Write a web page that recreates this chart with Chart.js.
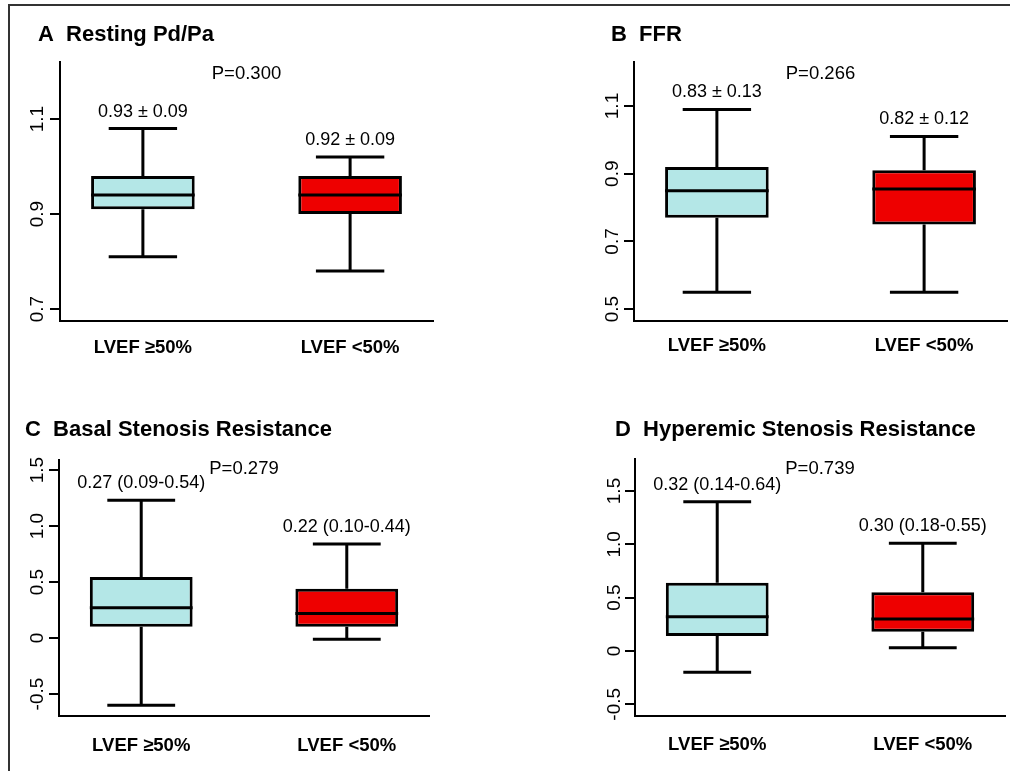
<!DOCTYPE html>
<html>
<head>
<meta charset="utf-8">
<script src="https://cdn.jsdelivr.net/npm/chart.js@4.4.1/dist/chart.umd.min.js"></script>
<style>
html,body{margin:0;padding:0;background:#fff;}
#wrap{position:relative;width:1010px;height:771px;overflow:hidden;background:#fff;}
#frame{position:absolute;left:8px;top:4px;width:1010px;height:790px;border-top:2px solid #333;border-left:2px solid #333;}
canvas{position:absolute;}
</style>
</head>
<body>
<div id="wrap">
  <div id="frame"></div>
  <canvas id="cA" width="505" height="385" style="left:0;top:0"></canvas>
  <canvas id="cB" width="505" height="385" style="left:505px;top:0"></canvas>
  <canvas id="cC" width="505" height="386" style="left:0;top:385px"></canvas>
  <canvas id="cD" width="505" height="386" style="left:505px;top:385px"></canvas>
</div>
<script>
// ---- data ----
const categories = ['LVEF \u226550%', 'LVEF <50%'];
const groupPos = [1, 2];
const groupColors = ['#b4e7e7', '#ee0000'];

// A: Resting Pd/Pa
const restTitle = 'A  Resting Pd/Pa';
const restLow  = [0.81, 0.78];
const restQ1   = [0.91, 0.90];
const restMed  = [0.94, 0.94];
const restQ3   = [0.98, 0.98];
const restHigh = [1.08, 1.02];
const restTicks = [0.7, 0.9, 1.1];
const restTickLabels = ['0.7', '0.9', '1.1'];
const restLabels = ['0.93 \u00b1 0.09', '0.92 \u00b1 0.09'];
const restP = 'P=0.300';

// B: FFR
const ffrTitle = 'B  FFR';
const ffrLow  = [0.55, 0.55];
const ffrQ1   = [0.77, 0.75];
const ffrMed  = [0.85, 0.855];
const ffrQ3   = [0.92, 0.91];
const ffrHigh = [1.09, 1.01];
const ffrTicks = [0.5, 0.7, 0.9, 1.1];
const ffrTickLabels = ['0.5', '0.7', '0.9', '1.1'];
const ffrLabels = ['0.83 \u00b1 0.13', '0.82 \u00b1 0.12'];
const ffrP = 'P=0.266';

// C: Basal Stenosis Resistance
const bsrTitle = 'C  Basal Stenosis Resistance';
const bsrLow  = [-0.60, -0.01];
const bsrQ1   = [0.10, 0.10];
const bsrMed  = [0.27, 0.22];
const bsrQ3   = [0.545, 0.44];
const bsrHigh = [1.23, 0.84];
const bsrTicks = [-0.5, 0, 0.5, 1.0, 1.5];
const bsrTickLabels = ['-0.5', '0', '0.5', '1.0', '1.5'];
const bsrLabels = ['0.27 (0.09-0.54)', '0.22 (0.10-0.44)'];
const bsrP = 'P=0.279';

// D: Hyperemic Stenosis Resistance
const hsrTitle = 'D  Hyperemic Stenosis Resistance';
const hsrLow  = [-0.20, 0.03];
const hsrQ1   = [0.14, 0.18];
const hsrMed  = [0.32, 0.30];
const hsrQ3   = [0.64, 0.55];
const hsrHigh = [1.40, 1.01];
const hsrTicks = [-0.5, 0, 0.5, 1.0, 1.5];
const hsrTickLabels = ['-0.5', '0', '0.5', '1.0', '1.5'];
const hsrLabels = ['0.32 (0.14-0.64)', '0.30 (0.18-0.55)'];
const hsrP = 'P=0.739';

// ---- drawing ----
const FONT = "'Liberation Sans', Arial, Helvetica, sans-serif";

const boxExtras = {
  id: 'boxExtras',
  afterDatasetsDraw(chart, args, o) {
    const {ctx, chartArea} = chart;
    const xS = chart.scales.x, yS = chart.scales.y;
    const meta = chart.getDatasetMeta(0);
    ctx.save();
    ctx.strokeStyle = '#000';
    ctx.lineWidth = 3;
    ctx.lineCap = 'butt';
    groupPos.forEach((p, i) => {
      const bar = meta.data[i];
      const x = xS.getPixelForValue(p);
      const hw = bar.width / 2;
      const cw = hw * 0.66;
      const yLo = yS.getPixelForValue(o.low[i]);
      const yHi = yS.getPixelForValue(o.high[i]);
      const yQ1 = yS.getPixelForValue(o.q1[i]);
      const yQ3 = yS.getPixelForValue(o.q3[i]);
      const yMd = yS.getPixelForValue(o.med[i]);
      ctx.beginPath();
      ctx.moveTo(x, yQ3); ctx.lineTo(x, yHi);
      ctx.moveTo(x - cw, yHi); ctx.lineTo(x + cw, yHi);
      ctx.moveTo(x, yQ1); ctx.lineTo(x, yLo);
      ctx.moveTo(x - cw, yLo); ctx.lineTo(x + cw, yLo);
      ctx.stroke();
      ctx.beginPath();
      ctx.moveTo(x - hw, yMd); ctx.lineTo(x + hw, yMd);
      ctx.stroke();
      ctx.fillStyle = '#000';
      ctx.font = '18px ' + FONT;
      ctx.textAlign = 'center';
      ctx.textBaseline = 'middle';
      ctx.fillText(o.labels[i], x, yHi - 17);
    });
    ctx.font = '18.5px ' + FONT;
    ctx.textAlign = 'center';
    ctx.textBaseline = 'middle';
    const mid = (groupPos[0] + groupPos[1]) / 2;
    ctx.fillText(o.pText, xS.getPixelForValue(mid), chartArea.top + o.pOffset);
    // panel title
    ctx.font = 'bold 22px ' + FONT;
    ctx.textAlign = 'left';
    ctx.fillText(o.title, chartArea.left + o.titleDx, o.titleY);
    ctx.restore();
  }
};

function makePanel(id, d, L) {
  new Chart(document.getElementById(id), {
    type: 'bar',
    data: {
      datasets: [{
        data: groupPos.map((p, i) => ({x: p, y: [d.q1[i], d.q3[i]]})),
        backgroundColor: groupColors,
        borderColor: '#000',
        borderWidth: 3,
        borderSkipped: false,
        categoryPercentage: 1,
        barPercentage: 0.5
      }]
    },
    options: {
      responsive: false,
      animation: false,
      devicePixelRatio: 1,
      layout: {padding: {left: 0, right: L.padR, top: L.padT, bottom: 0}},
      plugins: {
        legend: {display: false},
        tooltip: {enabled: false},
        title: {display: false},
        boxExtras: {low: d.low, q1: d.q1, med: d.med, q3: d.q3, high: d.high,
                    labels: d.labels, pText: d.pText, pOffset: L.pOff,
                    title: d.title, titleDx: L.titleDx, titleY: L.titleY}
      },
      scales: {
        x: {
          type: 'linear', min: 0.6, max: 2.4, offset: false,
          afterBuildTicks: s => { s.ticks = groupPos.map(v => ({value: v})); },
          afterFit: s => { s.height = L.xH; },
          grid: {display: false, drawTicks: false, offset: false},
          border: {display: true, color: '#000', width: 2},
          ticks: {
            callback: (v, i) => categories[i],
            color: '#000', padding: L.catPad, maxRotation: 0, minRotation: 0,
            font: {family: FONT, size: 18.5, weight: 'bold'}
          }
        },
        y: {
          min: d.yMin, max: d.yMax,
          afterBuildTicks: s => { s.ticks = d.ticks.map(v => ({value: v})); },
          afterFit: s => { s.width = L.yW; },
          grid: {display: true, drawOnChartArea: false, drawTicks: true, tickLength: 10, lineWidth: 2, color: '#000'},
          border: {display: true, color: '#000', width: 2},
          ticks: {
            callback: (v, i) => d.tickLabels[i],
            color: '#000', minRotation: 90, maxRotation: 90, crossAlign: 'center',
            padding: L.tickPad,
            font: {family: FONT, size: 19}
          }
        }
      }
    },
    plugins: [boxExtras]
  });
}

makePanel('cA', {title: restTitle, low: restLow, q1: restQ1, med: restMed, q3: restQ3, high: restHigh,
  ticks: restTicks, tickLabels: restTickLabels, labels: restLabels, pText: restP, yMin: 0.675, yMax: 1.22},
  {padR: 72, padT: 62, yW: 60, xH: 64, catPad: 16, tickPad: -1, pOff: 12, titleDx: -22, titleY: 34.5});

makePanel('cB', {title: ffrTitle, low: ffrLow, q1: ffrQ1, med: ffrMed, q3: ffrQ3, high: ffrHigh,
  ticks: ffrTicks, tickLabels: ffrTickLabels, labels: ffrLabels, pText: ffrP, yMin: 0.465, yMax: 1.23},
  {padR: 3, padT: 62, yW: 129, xH: 64, catPad: 14, tickPad: -2, pOff: 12, titleDx: -23, titleY: 34.5});

makePanel('cC', {title: bsrTitle, low: bsrLow, q1: bsrQ1, med: bsrMed, q3: bsrQ3, high: bsrHigh,
  ticks: bsrTicks, tickLabels: bsrTickLabels, labels: bsrLabels, pText: bsrP, yMin: -0.696, yMax: 1.59},
  {padR: 76, padT: 75, yW: 59, xH: 55, catPad: 19, tickPad: -5, pOff: 9, titleDx: -34, titleY: 44.5});

makePanel('cD', {title: hsrTitle, low: hsrLow, q1: hsrQ1, med: hsrMed, q3: hsrQ3, high: hsrHigh,
  ticks: hsrTicks, tickLabels: hsrTickLabels, labels: hsrLabels, pText: hsrP, yMin: -0.61, yMax: 1.80},
  {padR: 5, padT: 74, yW: 130, xH: 55, catPad: 18, tickPad: -6, pOff: 10, titleDx: -20, titleY: 44.5});
</script>
</body>
</html>
